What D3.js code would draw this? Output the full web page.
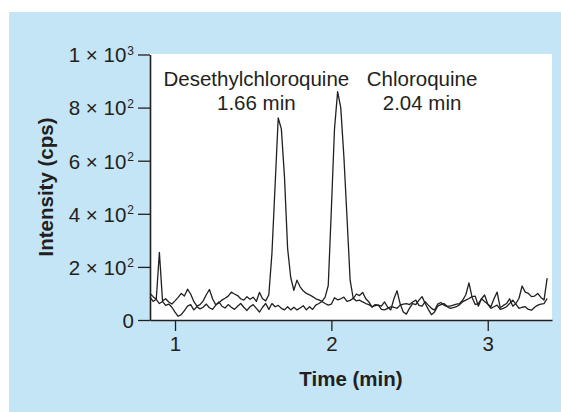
<!DOCTYPE html>
<html>
<head>
<meta charset="utf-8">
<script src="https://d3js.org/d3.v7.min.js"></script>
<style>
  body { margin: 0; background: #fff; }
  svg text { font-family: "Liberation Sans", Arial, sans-serif; fill: #231f20; }
</style>
</head>
<body>
<div id="chart"></div>
<script>
// sampling of the chromatogram (min)
const startTime = 0.84;
const stepTime = 0.02;

// desethylchloroquine channel (cps)
const desethylTrace = [
  100, 88, 78, 255, 72, 80, 68, 60, 72, 85,
  100, 90, 116, 98, 70, 52, 58, 72, 95, 115,
  80, 58, 64, 75, 82, 90, 105, 98, 92, 80,
  75, 88, 78, 86, 70, 104, 80, 72, 95,
  252, 506, 761, 720, 540, 270, 160, 112, 150,
  125, 110, 100, 95, 88, 80, 76, 70,
  62, 56, 60, 84, 76, 80, 86, 70, 74, 82,
  72, 75, 68, 62, 58, 50, 54, 56, 40, 38, 44, 50, 48, 44, 56, 60, 62, 58,
  68, 75, 55, 52, 69, 56, 44, 37, 60, 66, 56, 50, 44, 47, 50, 58, 69, 75, 81, 88,
  90, 52, 80, 94, 60, 44, 50, 56, 40, 44, 50, 62, 75, 60, 44, 48, 50, 40, 37, 48,
  56, 60, 62, 81
];

// chloroquine channel (cps)
const chloroquineTrace = [
  86, 70, 78, 62, 70, 55, 60, 48, 30, 14,
  20, 35, 52, 58, 38, 50, 42, 48, 60, 46,
  40, 55, 68, 52, 45, 58, 48, 40, 52, 62,
  48, 36, 50, 58, 44, 30, 48, 62, 40,
  62, 50, 55, 44, 38, 50, 38, 48, 38, 45, 54, 38, 50, 40, 56, 62, 70,
  86, 130, 418, 720, 860, 800, 615, 385, 150, 80,
  98, 92, 104, 80, 68, 48, 58, 56, 52, 68, 48, 38, 80, 110, 60, 30, 22, 45,
  62, 58, 75, 88, 62, 40, 20, 30, 52, 58, 62, 52, 52, 56, 60, 62, 75, 95, 140, 85,
  58, 62, 80, 70, 60, 50, 80, 105, 46, 55, 62, 80, 52, 62, 82, 128, 105, 100, 88, 90,
  100, 85, 75, 158
];

const xTicks = [1, 2, 3];
const yTicks = [0, 200, 400, 600, 800, 1000];
const yTickLabels = [["0", ""], ["2 × 10", "2"], ["4 × 10", "2"], ["6 × 10", "2"], ["8 × 10", "2"], ["1 × 10", "3"]];

const peakLabels = [
  { name: "Desethylchloroquine", rt: "1.66 min", t: 1.52 },
  { name: "Chloroquine", rt: "2.04 min", t: 2.58 }
];

const width = 561, height = 412;
const plot = { left: 150, right: 552, top: 54, bottom: 320 };
const fontSize = "20.5px";

const svg = d3.select("#chart").append("svg")
  .attr("width", width)
  .attr("height", height);

// blue panel + white plot area
svg.append("rect").attr("x", 9).attr("y", 12).attr("width", width - 9).attr("height", height - 12)
  .attr("fill", "#c3e5f6");
svg.append("rect").attr("x", plot.left).attr("y", plot.top)
  .attr("width", plot.right - plot.left).attr("height", plot.bottom - plot.top)
  .attr("fill", "#fff");

const x = d3.scaleLinear().domain([0.84, 3.411]).range([plot.left, plot.right]);
const y = d3.scaleLinear().domain([0, 1000]).range([plot.bottom, plot.top + 0.5]);

const line = d3.line()
  .x((d, i) => x(startTime + i * stepTime))
  .y(d => y(d));

[desethylTrace, chloroquineTrace].forEach(trace => {
  svg.append("path")
    .datum(trace)
    .attr("d", line)
    .attr("fill", "none")
    .attr("stroke", "#231f20")
    .attr("stroke-width", 1.3)
    .attr("stroke-linejoin", "round");
});

// y axis
const yAxis = svg.append("g")
  .attr("transform", `translate(${plot.left},0)`)
  .call(d3.axisLeft(y).tickValues(yTicks).tickSize(12).tickSizeOuter(0).tickPadding(4));

yAxis.selectAll(".tick text")
  .style("font-size", fontSize)
  .attr("dy", "0.36em")
  .text(null)
  .each(function(d, i) {
    const t = d3.select(this);
    t.append("tspan").text(yTickLabels[i][0]);
    if (yTickLabels[i][1]) {
      t.append("tspan").style("font-size", "12px").attr("dy", "-0.65em").attr("dx", 1).text(yTickLabels[i][1]);
    }
  });

// x axis
const xAxis = svg.append("g")
  .attr("transform", `translate(0,${plot.bottom})`)
  .call(d3.axisBottom(x).tickValues(xTicks).tickSize(11).tickSizeOuter(0).tickPadding(5).tickFormat(d3.format("d")));

xAxis.selectAll(".tick text").style("font-size", fontSize);

svg.selectAll(".domain").attr("stroke", "#231f20").attr("stroke-width", 1.6);
svg.selectAll(".tick line").attr("stroke", "#231f20").attr("stroke-width", 1.3);
svg.selectAll(".tick text").attr("fill", "#231f20");

// axis titles
svg.append("text")
  .attr("transform", `translate(53,${(plot.top + plot.bottom) / 2}) rotate(-90)`)
  .attr("text-anchor", "middle")
  .style("font-size", fontSize)
  .attr("font-weight", "bold")
  .text("Intensity (cps)");

svg.append("text")
  .attr("x", (plot.left + plot.right) / 2)
  .attr("y", 386)
  .attr("text-anchor", "middle")
  .style("font-size", fontSize)
  .attr("font-weight", "bold")
  .text("Time (min)");

// peak annotations
peakLabels.forEach(p => {
  svg.append("text").attr("x", x(p.t)).attr("y", y(880))
    .attr("text-anchor", "middle").style("font-size", fontSize).text(p.name);
  svg.append("text").attr("x", x(p.t)).attr("y", y(790))
    .attr("text-anchor", "middle").style("font-size", fontSize).text(p.rt);
});
</script>
</body>
</html>
